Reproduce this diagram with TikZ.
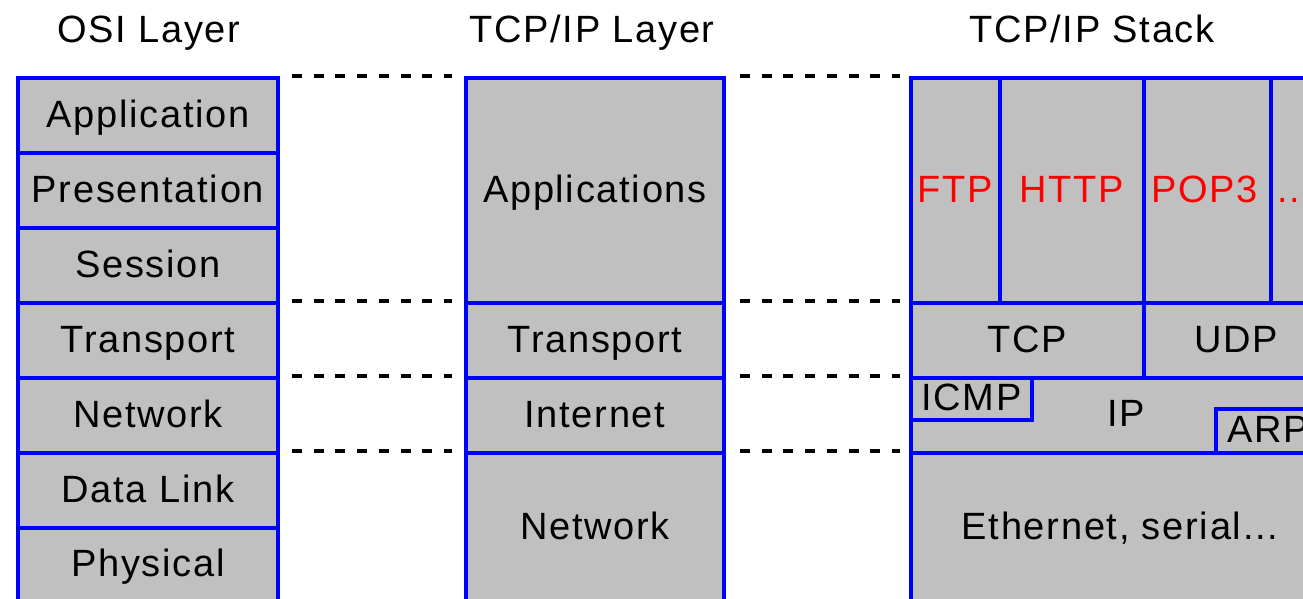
\documentclass[tikz,border=0pt]{standalone}
\usepackage{fontspec}
\setmainfont{Liberation Sans}[LetterSpace=4.5]
\definecolor{cellgray}{RGB}{192,192,192}
\begin{document}
\begin{tikzpicture}[x=1pt, y=-1pt,
  layer/.style={draw=blue, fill=cellgray, line width=4pt, inner sep=0pt,
    anchor=north west, font=\fontsize{38}{40}\selectfont,
    text height=23pt, text depth=0pt},
  proto/.style={layer, text=red},
  title/.style={font=\fontsize{38}{40}\selectfont, text height=27pt, text depth=0pt},
  gap/.style={dash pattern=on 10pt off 11.7pt, line width=4pt}]
\useasboundingbox (0,0) rectangle (1303,598);
\clip (0,0) rectangle (1303,598);
% titles
\node[title] (osititle) at (149,29) {OSI Layer};
\node[title] (tcptitle) at (592,29) {TCP/IP Layer};
\node[title] (stacktitle) at (1092,29) {TCP/IP Stack};
% OSI layers
\node[layer, minimum width=260pt, minimum height=75pt] (osiapp) at (16,76) {Application};
\node[layer, minimum width=260pt, minimum height=75pt] (osipres) at (16,151) {Presentation};
\node[layer, minimum width=260pt, minimum height=75pt] (osisess) at (16,226) {Session};
\node[layer, minimum width=260pt, minimum height=75pt] (ositrans) at (16,301) {Transport};
\node[layer, minimum width=260pt, minimum height=75pt] (osinet) at (16,376) {Network};
\node[layer, minimum width=260pt, minimum height=75pt] (osidata) at (16,451) {Data Link};
\node[layer, minimum width=260pt, minimum height=74pt] (osiphys) at (16,526) {Physical};
% TCP/IP layers
\node[layer, minimum width=258pt, minimum height=225pt] (tcpapp) at (464,76) {Applications};
\node[layer, minimum width=258pt, minimum height=75pt] (tcptrans) at (464,301) {Transport};
\node[layer, minimum width=258pt, minimum height=75pt] (tcpinet) at (464,376) {Internet};
\node[layer, minimum width=258pt, minimum height=149pt] (tcpnet) at (464,451) {Network};
% TCP/IP stack
\node[proto, minimum width=89pt, minimum height=225pt] (ftp) at (909,76) {FTP};
\node[proto, minimum width=144pt, minimum height=225pt] (http) at (998,76) {HTTP};
\node[proto, minimum width=127pt, minimum height=225pt] (pop) at (1142,76) {\hspace*{-6pt}POP3};
\node[proto, minimum width=58pt, minimum height=225pt] (more) at (1269,76) {\hspace*{-10pt}...};
\node[layer, minimum width=233pt, minimum height=75pt] (tcp) at (909,301) {TCP};
\node[layer, minimum width=185pt, minimum height=75pt] (udp) at (1142,301) {UDP};
\node[layer, minimum width=418pt, minimum height=75pt, text height=21pt] (ip) at (909,376) {\hspace*{12pt}IP};
\node[layer, minimum width=121pt, minimum height=42pt] (icmp) at (909,376) {ICMP};
\node[layer, minimum width=113pt, minimum height=44pt] (arp) at (1214,407) {\hspace*{-8pt}ARP};
\node[layer, minimum width=418pt, minimum height=149pt] (eth) at (909,451) {Ethernet, serial...};
% layer boundaries
\draw[gap, shorten <=12pt, shorten >=12pt] (osiapp.north east) -- (tcpapp.north west);
\draw[gap, shorten <=12pt, shorten >=12pt] (ositrans.north east) -- (tcptrans.north west);
\draw[gap, shorten <=12pt, shorten >=12pt] (osinet.north east) -- (tcpinet.north west);
\draw[gap, shorten <=12pt, shorten >=12pt] (osidata.north east) -- (tcpnet.north west);
\draw[gap, shorten <=12pt, shorten >=12pt] (osiphys.south east) -- (tcpnet.south west);
\draw[gap, shorten <=14pt, shorten >=9pt] (tcpapp.north east) -- (ftp.north west);
\draw[gap, shorten <=14pt, shorten >=9pt] (tcptrans.north east) -- (tcp.north west);
\draw[gap, shorten <=14pt, shorten >=9pt] (tcpinet.north east) -- (ip.north west);
\draw[gap, shorten <=14pt, shorten >=9pt] (tcpnet.north east) -- (eth.north west);
\draw[gap, shorten <=14pt, shorten >=9pt] (tcpnet.south east) -- (eth.south west);
\end{tikzpicture}
\end{document}
